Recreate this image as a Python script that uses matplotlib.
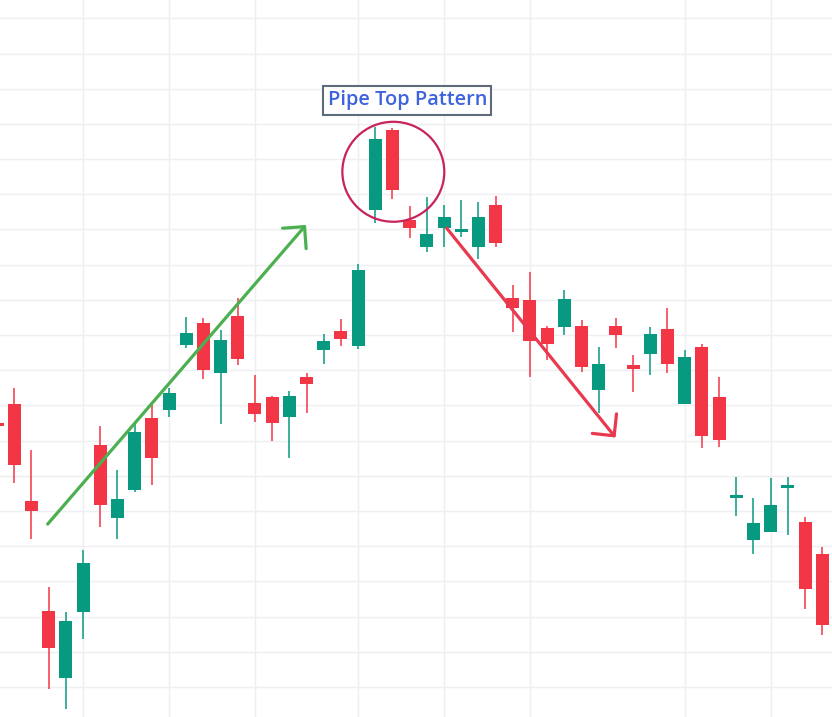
import matplotlib
matplotlib.use("Agg")
import matplotlib.pyplot as plt
from matplotlib.patches import Ellipse, ArrowStyle
import numpy as np

# ---- data (price units) ----
opens = [105.47, 106.05, 103.29, 100.16, 98.27, 100.14, 104.88, 102.79, 103.61, 105.65,
         105.86, 107.73, 108.35, 106.91, 108.55, 106.07, 106.24, 105.68, 106.81, 107.57,
         108.12, 107.70, 111.54, 113.83, 111.28, 110.51, 111.03, 110.94, 110.49, 111.70,
         109.05, 109.00, 108.20, 108.24, 108.26, 106.45, 108.26, 107.14, 107.45, 108.18,
         106.03, 107.66, 106.24, 103.38, 102.19, 102.42, 103.67, 102.69, 101.78]
highs = [105.90, 106.51, 104.74, 100.85, 100.14, 101.90, 105.42, 104.17, 105.54, 106.08,
         106.50, 108.52, 108.49, 108.15, 109.06, 106.87, 106.28, 106.41, 106.92, 108.03,
         108.46, 110.02, 113.91, 113.89, 111.67, 111.93, 111.70, 111.84, 111.78, 111.95,
         109.41, 109.79, 108.26, 109.28, 108.43, 107.66, 108.48, 107.44, 108.22, 108.76,
         107.58, 107.74, 106.81, 103.97, 103.37, 103.94, 103.97, 102.84, 101.99]
lows = [105.00, 103.80, 102.22, 97.95, 97.38, 99.37, 102.55, 102.22, 103.55, 103.75,
        105.66, 107.64, 106.74, 105.47, 107.16, 105.54, 105.00, 104.52, 105.78, 107.17,
        107.70, 107.60, 111.18, 111.86, 110.77, 110.37, 110.51, 110.80, 110.16, 110.51,
        108.10, 106.82, 107.28, 107.99, 106.96, 105.78, 107.64, 106.37, 106.88, 106.93,
        106.03, 104.80, 104.83, 102.87, 101.79, 102.42, 102.33, 100.23, 99.49]
closes = [105.43, 104.32, 102.99, 99.12, 99.88, 101.53, 103.16, 103.35, 105.25, 104.52,
          106.36, 108.06, 107.02, 107.86, 107.33, 105.77, 105.49, 106.27, 106.61, 107.84,
          107.90, 109.85, 113.57, 112.13, 111.05, 110.88, 111.36, 111.01, 111.36, 110.63,
          108.78, 107.82, 107.76, 109.03, 107.08, 107.18, 107.99, 107.05, 108.03, 107.19,
          107.38, 105.12, 105.03, 103.45, 102.66, 103.18, 103.72, 100.80, 99.75]

grid_x_idx = [5, 10, 15, 21, 26, 31, 40, 45]
grid_y = list(range(98, 118))
title_text = "Pipe Top Pattern"

UP = "#089981"
DOWN = "#F23645"

fig = plt.figure(figsize=(8.32, 7.17), dpi=100)
ax = fig.add_axes([0, 0, 1, 1])
ax.set_xlim(0.168, 48.57)
ax.set_ylim(97.15, 117.52)

for gx in grid_x_idx:
    ax.axvline(gx, color="#EDEFF3", lw=1.0, zorder=0)
for gy in grid_y:
    ax.axhline(gy, color="#EDEFF3", lw=1.0, zorder=0)

x = np.arange(len(opens))
o = np.array(opens); c = np.array(closes)
h = np.array(highs); l = np.array(lows)
colors = [UP if cc >= oo else DOWN for oo, cc in zip(o, c)]
ax.vlines(x, l, h, colors=colors, lw=1.1, zorder=2)
bottoms = np.minimum(o, c)
heights = np.maximum(np.abs(c - o), 0.06)
ax.bar(x, heights, bottom=bottoms, width=0.756, color=colors, zorder=3, linewidth=0)

# annotations
ast = ArrowStyle("->", head_length=1.12, head_width=1.12)
ax.annotate("", xy=(17.97, 111.13), xytext=(2.94, 102.63),
            arrowprops=dict(arrowstyle=ast, color="#4CAF50", lw=2.3,
                            shrinkA=0, shrinkB=0, mutation_scale=10,
                            capstyle="round", joinstyle="round"), zorder=5)
ax.annotate("", xy=(35.98, 105.09), xytext=(26.15, 111.04),
            arrowprops=dict(arrowstyle=ast, color="#E8394F", lw=2.3,
                            shrinkA=0, shrinkB=0, mutation_scale=10,
                            capstyle="round", joinstyle="round"), zorder=5)

ax.add_patch(Ellipse((23.05, 112.64), 5.93, 2.84, fill=False,
                     edgecolor="#C8235A", lw=1.6, zorder=5))

ax.text(23.86, 114.67, title_text, ha="center", va="center",
        fontsize=14.4, fontweight="semibold", family=["Open Sans", "DejaVu Sans"],
        color="#3D63DD", zorder=6,
        bbox=dict(boxstyle="square,pad=0.22", facecolor="white",
                  edgecolor="#5E6B7D", lw=1.5))

ax.axis("off")
fig.savefig("out.png", dpi=100, facecolor="white")
